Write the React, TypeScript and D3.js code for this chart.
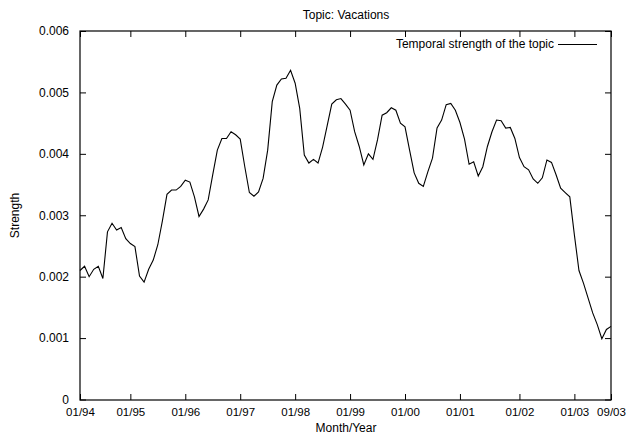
import React, { useEffect, useRef } from "react";
import * as d3 from "d3";

// monthly strength, 01/94 .. 09/03 (index = month slot)
const strength = [
  0.0021, 0.00217, 0.002, 0.00212, 0.00217, 0.00197, 0.00273, 0.00287, 0.00276, 0.0028,
  0.00262, 0.00254, 0.00249, 0.00201, 0.00191, 0.00212, 0.00227, 0.00252, 0.00291, 0.00334,
  0.00341, 0.00341, 0.00347, 0.00357, 0.00354, 0.0033, 0.00298, 0.0031, 0.00325, 0.00366,
  0.00406, 0.00425, 0.00425, 0.00436, 0.00431, 0.00424, 0.00379, 0.00337, 0.00331, 0.00338,
  0.0036, 0.00406, 0.00485, 0.00512, 0.00522, 0.00523, 0.00536, 0.00515, 0.00474, 0.00398,
  0.00385, 0.00391, 0.00385, 0.00411, 0.00446, 0.00481, 0.00488, 0.0049, 0.00481, 0.00471,
  0.00436, 0.00412, 0.00382, 0.004, 0.00391, 0.00423, 0.00463, 0.00467, 0.00475, 0.00471,
  0.0045, 0.00444, 0.00406, 0.00369, 0.00352, 0.00347, 0.00371, 0.00393, 0.00442, 0.00455,
  0.0048, 0.00482, 0.00471, 0.00451, 0.00424, 0.00383, 0.00387, 0.00364, 0.00379, 0.00412,
  0.00436, 0.00455, 0.00454, 0.00442, 0.00443, 0.00425, 0.00394, 0.00379, 0.00374, 0.00359,
  0.00352, 0.00361, 0.0039, 0.00386, 0.00366, 0.00344, 0.00337, 0.0033, 0.00268, 0.0021,
  0.00189, 0.00165, 0.00141, 0.00122, 0.00099, 0.00114, 0.00119,
];

const xTickPos = [0, 11, 23, 35, 47, 59, 71, 83, 96, 108, 116];
const xTickLabels = ["01/94", "01/95", "01/96", "01/97", "01/98", "01/99", "01/00", "01/01", "01/02", "01/03", "09/03"];
const yTicks = [0, 0.001, 0.002, 0.003, 0.004, 0.005, 0.006];

const width = 627;
const height = 436;
const margin = { top: 31, right: 16, bottom: 36, left: 80 };
const font = "'Liberation Sans', Arial, sans-serif";

const App = () => {
  const svgRef = useRef(null);

  useEffect(() => {
    const svg = d3.select(svgRef.current);
    svg.selectAll("*").remove();

    const x = d3.scaleLinear().domain([0, 116]).range([margin.left, width - margin.right]);
    const y = d3.scaleLinear().domain([0, 0.006]).range([height - margin.bottom - 0.5, margin.top]);
    const tickLen = 6;

    // y axis left + mirrored right, ticks inward
    svg.append("g")
      .attr("class", "y-axis")
      .attr("transform", `translate(${margin.left},0)`)
      .call(d3.axisLeft(y).tickValues(yTicks).tickFormat((d) => (d === 0 ? "0" : d3.format(".3f")(d)))
        .tickSizeInner(-tickLen).tickSizeOuter(0).tickPadding(11))
      .call((g) => g.select(".domain").remove());
    svg.append("g")
      .attr("transform", `translate(${width - margin.right},0)`)
      .call(d3.axisRight(y).tickValues(yTicks).tickSizeInner(-tickLen).tickSizeOuter(0).tickFormat(() => ""))
      .call((g) => g.select(".domain").remove());

    // x axis bottom + mirrored top
    svg.append("g")
      .attr("class", "x-axis")
      .attr("transform", `translate(0,${height - margin.bottom})`)
      .call(d3.axisBottom(x).tickValues(xTickPos).tickSizeInner(-tickLen).tickSizeOuter(0).tickPadding(8)
        .tickFormat((d, i) => xTickLabels[i]))
      .call((g) => g.select(".domain").remove());
    svg.append("g")
      .attr("transform", `translate(0,${margin.top})`)
      .call(d3.axisTop(x).tickValues(xTickPos).tickSizeInner(-tickLen).tickSizeOuter(0).tickFormat(() => ""))
      .call((g) => g.select(".domain").remove());

    svg.selectAll(".tick text").attr("font-family", font).attr("font-size", 11.5).attr("fill", "#000");
    svg.selectAll(".y-axis .tick text").attr("font-size", 12);
    svg.selectAll(".tick line").attr("stroke", "#000");

    // border
    svg.append("rect")
      .attr("x", margin.left)
      .attr("y", margin.top)
      .attr("width", width - margin.right - margin.left)
      .attr("height", height - margin.bottom - margin.top)
      .attr("fill", "none")
      .attr("stroke", "#000")
      .attr("stroke-width", 1.2);

    const line = d3.line<number>()
      .x((d, i) => x(i))
      .y((d) => y(d));

    svg.append("path")
      .datum(strength)
      .attr("d", line)
      .attr("fill", "none")
      .attr("stroke", "#000")
      .attr("stroke-width", 1.1);

    // legend
    svg.append("text")
      .attr("x", 554)
      .attr("y", 48)
      .attr("text-anchor", "end")
      .attr("font-family", font)
      .attr("font-size", 12)
      .text("Temporal strength of the topic");
    svg.append("line")
      .attr("x1", 558)
      .attr("x2", 597)
      .attr("y1", 44.5)
      .attr("y2", 44.5)
      .attr("stroke", "#000")
      .attr("stroke-width", 1.1);

    // titles
    svg.append("text")
      .attr("x", 346)
      .attr("y", 18.5)
      .attr("text-anchor", "middle")
      .attr("font-family", font)
      .attr("font-size", 12)
      .text("Topic: Vacations");
    svg.append("text")
      .attr("x", 346)
      .attr("y", 432)
      .attr("text-anchor", "middle")
      .attr("font-family", font)
      .attr("font-size", 12)
      .text("Month/Year");
    svg.append("text")
      .attr("transform", `translate(19,${(margin.top + height - margin.bottom) / 2}) rotate(-90)`)
      .attr("text-anchor", "middle")
      .attr("font-family", font)
      .attr("font-size", 12)
      .text("Strength");
  }, []);

  return (
    <div style={{ position: "absolute", left: 0, top: 0 }}>
      <svg ref={svgRef} width={width} height={height} style={{ display: "block", background: "#fff" }}></svg>
    </div>
  );
};

export default App;
